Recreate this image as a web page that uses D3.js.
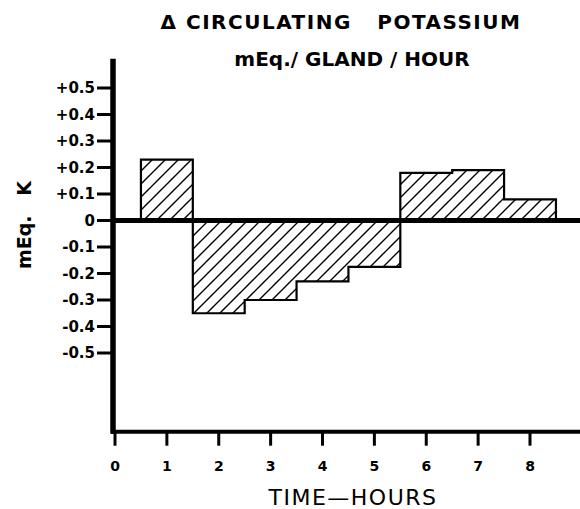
<!DOCTYPE html>
<html><head><meta charset="utf-8">
<script src="https://cdn.jsdelivr.net/npm/d3@7"></script>
<style>html,body{margin:0;padding:0;background:#fff;}svg{display:block;}</style>
</head><body>
<script>
const binStart = [0.5, 1.5, 2.5, 3.5, 4.5, 5.5, 6.5, 7.5];
const binEnd   = [1.5, 2.5, 3.5, 4.5, 5.5, 6.5, 7.5, 8.5];
const values   = [0.23, -0.35, -0.30, -0.23, -0.175, 0.18, 0.19, 0.08];
const yTickValues = [0.5, 0.4, 0.3, 0.2, 0.1, 0, -0.1, -0.2, -0.3, -0.4, -0.5];
const yTickLabels = ["+0.5","+0.4","+0.3","+0.2","+0.1","0","-0.1","-0.2","-0.3","-0.4","-0.5"];
const xTickValues = [0,1,2,3,4,5,6,7,8];
const xTickLabels = ["0","1","2","3","4","5","6","7","8"];

const W = 580, H = 509;
const svg = d3.select("body").append("svg").attr("width", W).attr("height", H);

const x = d3.scaleLinear().domain([0, 8]).range([115, 530]);
const y = d3.scaleLinear().domain([-0.5, 0.5]).range([353, 88]);
const yBottom = -0.797, yTop = 0.61;

const defs = svg.append("defs");
const hw = 13;
const pat = defs.append("pattern").attr("id","hatch").attr("patternUnits","userSpaceOnUse")
  .attr("width", hw).attr("height", hw);
pat.append("rect").attr("width",hw).attr("height",hw).attr("fill","#fff");
pat.append("path").attr("d", `M-2,2 L2,-2 M0,${hw} L${hw},0 M${hw-2},${hw+2} L${hw+2},${hw-2}`)
  .attr("stroke","#000").attr("stroke-width",1.4);

const font = "'DejaVu Sans', 'Liberation Sans', sans-serif";

// bar fills
svg.append("g").selectAll("rect").data(values).join("rect")
  .attr("x", (d,i) => x(binStart[i]))
  .attr("width", (d,i) => x(binEnd[i]) - x(binStart[i]) + 0.5)
  .attr("y", d => y(Math.max(d,0)))
  .attr("height", d => Math.abs(y(d) - y(0)))
  .attr("fill","url(#hatch)");

// step outline (no inner dividers)
let p = d3.path();
p.moveTo(x(binStart[0]), y(0));
values.forEach((v,i) => { p.lineTo(x(binStart[i]), y(v)); p.lineTo(x(binEnd[i]), y(v)); });
p.lineTo(x(binEnd[values.length-1]), y(0));
svg.append("path").attr("d", p.toString()).attr("fill","none").attr("stroke","#000")
  .attr("stroke-width",2.2).attr("stroke-linejoin","miter");

// zero line
svg.append("line").attr("x1", x(0)-2).attr("x2", W).attr("y1", y(0)).attr("y2", y(0))
  .attr("stroke","#000").attr("stroke-width",5);

// y axis line
svg.append("line").attr("x1", x(0)-2).attr("x2", x(0)-2).attr("y1", y(yTop)).attr("y2", y(yBottom)+2)
  .attr("stroke","#000").attr("stroke-width",5.5);
// x axis line
svg.append("line").attr("x1", x(0)-4).attr("x2", W).attr("y1", y(yBottom)).attr("y2", y(yBottom))
  .attr("stroke","#000").attr("stroke-width",4);

// y ticks
const yt = svg.append("g");
yt.selectAll("line").data(yTickValues).join("line")
  .attr("x1", 97).attr("x2", x(0)-2).attr("y1", d=>y(d)).attr("y2", d=>y(d))
  .attr("stroke","#000").attr("stroke-width",3);
yt.selectAll("text").data(yTickValues).join("text")
  .attr("x", 95).attr("y", d=>y(d)).attr("dy","0.36em").attr("text-anchor","end")
  .attr("font-family", font).attr("font-weight","bold").attr("font-size", 15)
  .text((d,i)=>yTickLabels[i]);

// x ticks
const xt = svg.append("g");
xt.selectAll("line").data(xTickValues).join("line")
  .attr("x1", d=>x(d)).attr("x2", d=>x(d)).attr("y1", y(yBottom)).attr("y2", y(yBottom)+14)
  .attr("stroke","#000").attr("stroke-width",3);
xt.selectAll("text").data(xTickValues).join("text")
  .attr("x", d=>x(d)).attr("y", 471).attr("text-anchor","middle")
  .attr("font-family", font).attr("font-weight","bold").attr("font-size", 14)
  .text((d,i)=>xTickLabels[i]);

// titles
svg.append("text").attr("x", 341).attr("y", 29).attr("text-anchor","middle")
  .attr("font-family", font).attr("font-weight","bold").attr("font-size", 20).attr("letter-spacing", 1.5)
  .attr("xml:space","preserve").text("\u0394 CIRCULATING   POTASSIUM");
svg.append("text").attr("x", 352).attr("y", 66).attr("text-anchor","middle")
  .attr("font-family", font).attr("font-weight","bold").attr("font-size", 20)
  .attr("xml:space","preserve").text("mEq./ GLAND / HOUR");

// axis titles
svg.append("text").attr("transform","translate(31,225) rotate(-90)").attr("text-anchor","middle")
  .attr("font-family", font).attr("font-weight","bold").attr("font-size", 19)
  .attr("xml:space","preserve").text("mEq.   K");
svg.append("text").attr("x", 353).attr("y", 505).attr("text-anchor","middle")
  .attr("font-family", font).attr("font-size", 22).attr("letter-spacing", 1.5)
  .text("TIME\u2014HOURS");
</script>
</body></html>
